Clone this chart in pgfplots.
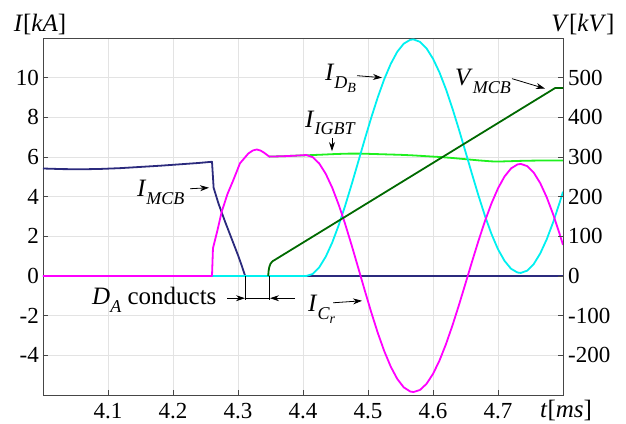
\documentclass[border=0pt]{standalone}
\usepackage{fontspec}
\setmainfont{Liberation Serif}
\usepackage{pgfplots}
\pgfplotsset{compat=1.18}
\usetikzlibrary{arrows.meta}

\definecolor{cMCB}{RGB}{43,42,125}
\definecolor{cCr}{RGB}{255,0,255}
\definecolor{cDB}{RGB}{0,240,240}
\definecolor{cIGBT}{RGB}{30,240,30}
\definecolor{cV}{RGB}{0,105,0}
\definecolor{cAxis}{RGB}{70,70,70}

% italic symbol with an italic subscript
\newcommand{\sym}[2]{\textit{#1}\raisebox{-0.3em}{\fontsize{18}{18}\selectfont\textit{#2}}}
\newcommand{\labfont}{\fontsize{25}{25}\selectfont}

\tikzset{arr/.style={-{Stealth[length=9pt,width=6pt]}, line width=0.8pt}}

\pgfplotsset{
  common/.style={
    scale only axis, width=520pt, height=357pt,
    xmin=4, xmax=4.8,
    tick align=inside, major tick length=5pt,
    tick style={cAxis, line width=0.7pt},
    axis line style={cAxis, line width=0.9pt},
    ticklabel style={font=\fontsize{23}{23}\selectfont, inner sep=0pt},
  },
  curve/.style={line width=1.8pt, line join=round},
}

\begin{document}
\begin{tikzpicture}
% ---------- currents, left axis ----------
\begin{axis}[common,
  ymin=-6, ymax=12,
  xtick={4.1,4.2,4.3,4.4,4.5,4.6,4.7},
  xticklabels={4.1,4.2,4.3,4.4,4.5,4.6,4.7},
  ytick={-4,-2,0,2,4,6,8,10},
  yticklabels={-4,-2,0,2,4,6,8,10},
  xtick pos=bottom, ytick pos=left,
  yticklabel style={xshift=-4pt},
  xticklabel style={yshift=-8pt},
  grid=major, grid style={gray!22, line width=0.7pt},
]
\coordinate (bl) at (rel axis cs:0,0);
\coordinate (tr) at (rel axis cs:1,1);

% I_MCB
\addplot[curve, cMCB] coordinates {
(4.000,5.42) (4.030,5.39) (4.060,5.38) (4.090,5.40) (4.120,5.44)
(4.150,5.50) (4.180,5.56) (4.210,5.63) (4.240,5.70) (4.260,5.76)
(4.2625,4.45) (4.270,3.65) (4.280,2.75) (4.290,1.90) (4.300,1.05)
(4.306,0.50) (4.311,0.00) (4.800,0.00)
};

% I_IGBT
\addplot[curve, cIGBT] coordinates {
(4.348,6.02) (4.370,6.04) (4.390,6.07) (4.405,6.085) (4.430,6.12)
(4.450,6.15) (4.470,6.17) (4.490,6.17) (4.510,6.15) (4.530,6.13)
(4.550,6.11) (4.570,6.08) (4.590,6.04) (4.610,6.00) (4.630,5.95)
(4.650,5.89) (4.670,5.83) (4.690,5.78) (4.700,5.77) (4.720,5.79)
(4.740,5.81) (4.760,5.82) (4.800,5.82)
};

% I_DB
\addplot[curve, cDB] coordinates {
(4.000,0) (4.405,0) (4.415,0.103) (4.425,0.438) (4.435,0.973)
(4.445,1.690) (4.455,2.568) (4.465,3.560) (4.475,4.637) (4.485,5.761)
(4.495,6.890) (4.505,7.984) (4.515,9.008) (4.525,9.922) (4.535,10.696)
(4.545,11.304) (4.555,11.714) (4.565,11.909) (4.570,11.930)
(4.580,11.806) (4.590,11.478) (4.600,10.957) (4.610,10.262) (4.620,9.412)
(4.630,8.436) (4.640,7.375) (4.650,6.264) (4.660,5.142) (4.670,4.050)
(4.680,3.025) (4.690,2.115) (4.700,1.350) (4.710,0.766) (4.720,0.367)
(4.730,0.175) (4.735,0.155) (4.745,0.270) (4.755,0.603) (4.765,1.139)
(4.775,1.854) (4.785,2.725) (4.795,3.719) (4.800,4.251)
};

% I_Cr
\addplot[curve, cCr] coordinates {
(4.000,0) (4.260,0) (4.2615,1.40) (4.268,2.25) (4.275,3.25)
(4.284,4.15) (4.293,4.85) (4.303,5.68) (4.316,6.18) (4.323,6.33)
(4.329,6.38) (4.335,6.32) (4.340,6.22) (4.348,6.02) (4.370,6.04)
(4.390,6.07) (4.405,6.10) (4.415,5.992) (4.425,5.672) (4.435,5.152)
(4.445,4.450) (4.455,3.587) (4.465,2.605) (4.475,1.533) (4.485,0.409)
(4.495,-0.725) (4.505,-1.829) (4.515,-2.863) (4.525,-3.787) (4.535,-4.571)
(4.545,-5.189) (4.555,-5.614) (4.565,-5.824) (4.570,-5.850)
(4.580,-5.746) (4.590,-5.438) (4.600,-4.937) (4.610,-4.262) (4.620,-3.432)
(4.630,-2.486) (4.640,-1.455) (4.650,-0.374) (4.660,0.718) (4.670,1.780)
(4.680,2.775) (4.690,3.665) (4.700,4.420) (4.710,5.014) (4.720,5.423)
(4.730,5.625) (4.735,5.650) (4.745,5.540) (4.755,5.212) (4.765,4.681)
(4.775,3.966) (4.785,3.095) (4.795,2.101) (4.800,1.569)
};

% annotations
\node[anchor=base west, inner sep=0, font=\labfont] at (axis cs:4.1446,4.0) {\sym{I}{MCB}};
\draw[arr] (axis cs:4.2262,4.40) -- (axis cs:4.2554,4.45);

\node[anchor=base west, inner sep=0, font=\labfont] at (axis cs:4.4031,7.5) {\sym{I}{IGBT}};
\draw[arr] (axis cs:4.4446,6.95) -- (axis cs:4.4446,6.30);

\node[anchor=base west, inner sep=0, font=\labfont] at (axis cs:4.4338,9.85)
  {\textit{I}\raisebox{-0.3em}{\fontsize{18}{18}\selectfont\textit{D}\raisebox{-0.25em}{\fontsize{14}{14}\selectfont\textit{B}}}};
\draw[arr] (axis cs:4.4831,10.1) -- (axis cs:4.5215,10.0);

\node[anchor=base west, inner sep=0, font=\labfont] at (axis cs:4.6338,9.6) {\sym{V}{MCB}};
\draw[arr] (axis cs:4.7215,9.95) -- (axis cs:4.7723,9.45);

\node[anchor=base west, inner sep=0, font=\labfont] at (axis cs:4.4077,-1.8)
  {\textit{I}\raisebox{-0.3em}{\fontsize{18}{18}\selectfont\textit{C}\raisebox{-0.25em}{\fontsize{14}{14}\selectfont\textit{r}}}};
\draw[arr] (axis cs:4.4462,-1.35) -- (axis cs:4.4908,-1.25);

\node[anchor=base west, inner sep=0, font=\labfont] at (axis cs:4.0754,-1.45) {\sym{D}{A} conducts};
\draw[line width=0.8pt] (axis cs:4.3108,0) -- (axis cs:4.3108,-1.23);
\draw[line width=0.8pt] (axis cs:4.348,0) -- (axis cs:4.348,-1.23);
\draw[line width=0.8pt] (axis cs:4.3108,-1.12) -- (axis cs:4.348,-1.12);
\draw[arr] (axis cs:4.2831,-1.12) -- (axis cs:4.3108,-1.12);
\draw[arr] (axis cs:4.3877,-1.12) -- (axis cs:4.3492,-1.12);
\end{axis}

% ---------- voltage, right axis ----------
\begin{axis}[common,
  ymin=-300, ymax=600,
  axis x line=none, axis y line*=right,
  ytick={-200,-100,0,100,200,300,400,500},
  yticklabels={-200,-100,0,100,200,300,400,500},
  yticklabel style={xshift=5pt},
]
% V_MCB
\addplot[curve, cV] coordinates {
(4.3465,0) (4.347,12) (4.348,22) (4.350,31) (4.353,37)
(4.788,474) (4.800,474)
};
\end{axis}

\node[font=\labfont] at ([xshift=-3pt,yshift=13pt]bl |- tr) {\textit{I}[\textit{kA}]};
\node[font=\labfont] at ([xshift=20pt,yshift=13pt]tr) {\textit{V}[\textit{kV}]};
\node[font=\labfont] at ([xshift=3pt,yshift=-15pt]tr |- bl) {\textit{t}[\textit{ms}]};

\pgfresetboundingbox
\path ([xshift=-43pt,yshift=-28pt]bl) rectangle ([xshift=63pt,yshift=38pt]tr);
\end{tikzpicture}
\end{document}
